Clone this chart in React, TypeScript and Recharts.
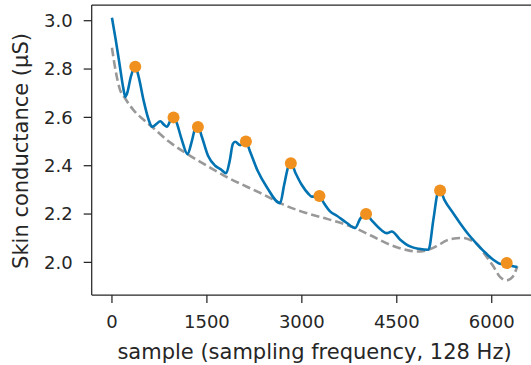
/**
 * Skin conductance trace with tonic baseline and detected SCR peaks.
 */
import { ComposedChart, Line, Scatter, XAxis, YAxis, ReferenceLine } from "recharts";

// phasic + tonic signal (sample index, µS)
const signalSamples = [
    0, 60, 120, 180, 210, 240, 300, 368, 420, 500, 580, 632, 700, 763, 820, 868, 920, 973,
    1020, 1100, 1194, 1260, 1310, 1358, 1420, 1520, 1631, 1720, 1805, 1860, 1910, 1947, 2026,
    2080, 2116, 2180, 2300, 2450, 2657, 2720, 2790, 2826, 2900, 3000, 3100, 3158, 3278, 3350,
    3450, 3553, 3700, 3842, 3920, 4015, 4100, 4250, 4342, 4421, 4550, 4710, 4850, 5000, 5080,
    5150, 5184, 5250, 5400, 5500, 5650, 5763, 5900, 6025, 6150, 6237, 6320, 6405,
];
const signalValues = [
    3.012, 2.92, 2.82, 2.72, 2.685, 2.7, 2.77, 2.81, 2.77, 2.67, 2.59, 2.561, 2.572, 2.584, 2.57,
    2.561, 2.585, 2.605, 2.58, 2.51, 2.448, 2.5, 2.55, 2.564, 2.52, 2.44, 2.4, 2.385, 2.369, 2.42,
    2.49, 2.499, 2.485, 2.495, 2.5, 2.46, 2.38, 2.31, 2.245, 2.32, 2.4, 2.412, 2.37, 2.32, 2.285,
    2.272, 2.276, 2.245, 2.21, 2.193, 2.165, 2.142, 2.18, 2.2, 2.175, 2.135, 2.121, 2.128, 2.095,
    2.066, 2.056, 2.052, 2.18, 2.29, 2.297, 2.26, 2.2, 2.162, 2.11, 2.077, 2.04, 2.011, 1.993,
    1.997, 1.985, 1.981,
];

// tonic component
const tonicSamples = [
    0, 60, 120, 210, 341, 500, 632, 900, 1194, 1500, 1800, 2132, 2400, 2657, 3000, 3400, 3842,
    4100, 4394, 4600, 4816, 5000, 5150, 5289, 5450, 5552, 5650, 5763, 5900, 6025, 6130, 6237,
    6330, 6405,
];
const tonicValues = [
    2.888, 2.79, 2.72, 2.678, 2.63, 2.59, 2.561, 2.5, 2.448, 2.4, 2.355, 2.313, 2.28, 2.245, 2.21,
    2.18, 2.142, 2.11, 2.073, 2.055, 2.045, 2.052, 2.07, 2.091, 2.1, 2.101, 2.094, 2.077, 2.03,
    1.984, 1.94, 1.926, 1.94, 1.984,
];

// detected peaks
const peakSamples = [368, 973, 1358, 2116, 2826, 3278, 4015, 5184, 6237];
const peakValues = [2.81, 2.6, 2.56, 2.5, 2.41, 2.275, 2.2, 2.297, 1.997];

const xTicks = [0, 1500, 3000, 4500, 6000];
const yTicks = [2.0, 2.2, 2.4, 2.6, 2.8, 3.0];

const INK = "#262626";
const FONT = "DejaVu Sans";

export default function App() {
    const signal = signalSamples.map((x, i) => ({ x, y: signalValues[i] }));
    const tonic = tonicSamples.map((x, i) => ({ x, y: tonicValues[i] }));
    const peaks = peakSamples.map((x, i) => ({ x, y: peakValues[i] }));

    const tickStyle = { fill: INK, fontSize: 18, fontFamily: FONT };

    return (
        <div style={{ position: "fixed", left: 0, top: 0, width: 531, height: 365, overflow: "hidden", background: "#fff" }}>
            <ComposedChart width={560} height={365} margin={{ top: 5, right: 22.7, bottom: 0, left: 0 }}>
                <XAxis
                    dataKey="x"
                    type="number"
                    domain={[-320, 6720]}
                    allowDataOverflow
                    ticks={xTicks}
                    height={70}
                    tick={tickStyle}
                    tickSize={8}
                    tickMargin={12}
                    stroke={INK}
                    strokeWidth={1.25}
                />
                <YAxis
                    dataKey="y"
                    type="number"
                    domain={[1.865, 3.065]}
                    allowDataOverflow
                    ticks={yTicks}
                    width={91.7}
                    tick={tickStyle}
                    tickSize={8}
                    tickMargin={11}
                    tickFormatter={(v: number) => v.toFixed(1)}
                    stroke={INK}
                    strokeWidth={1.25}
                />
                {/* top spine */}
                <ReferenceLine y={3.065} stroke={INK} strokeWidth={1.25} ifOverflow="visible" />
                <Scatter
                    data={peaks}
                    dataKey="y"
                    fill="#F0901E"
                    isAnimationActive={false}
                    shape={(p: any) => <circle cx={p.cx} cy={p.cy} r={6} fill="#F0901E" />}
                />
                <Line
                    data={tonic}
                    dataKey="y"
                    type="monotone"
                    stroke="#999999"
                    strokeWidth={2.6}
                    strokeDasharray="8.5 4"
                    dot={false}
                    activeDot={false}
                    isAnimationActive={false}
                />
                <Line
                    data={signal}
                    dataKey="y"
                    type="monotone"
                    stroke="#0173B2"
                    strokeWidth={2.6}
                    dot={false}
                    activeDot={false}
                    isAnimationActive={false}
                />
                <text x={314.5} y={358.5} textAnchor="middle" fill={INK} fontSize={21} fontFamily={FONT}>
                    sample (sampling frequency, 128 Hz)
                </text>
                <text
                    x={27.5}
                    y={151}
                    textAnchor="middle"
                    fill={INK}
                    fontSize={21}
                    fontFamily={FONT}
                    transform="rotate(-90, 27.5, 151)"
                >
                    Skin conductance (µS)
                </text>
            </ComposedChart>
        </div>
    );
}
